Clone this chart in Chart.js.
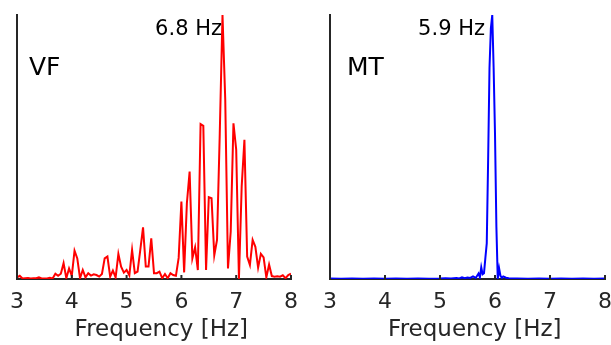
<!DOCTYPE html>
<html>
<head>
<meta charset="utf-8">
<script src="https://cdn.jsdelivr.net/npm/chart.js@4.4.1/dist/chart.umd.min.js"></script>
<style>
  html, body { margin: 0; padding: 0; background: #fff; overflow: hidden; width: 611px; height: 345px; }
  canvas { position: absolute; top: 0; }
  #vfChart { left: -2px; }
  #mtChart { left: 310px; }
</style>
</head>
<body>
<canvas id="vfChart" width="320" height="345"></canvas>
<canvas id="mtChart" width="330" height="345"></canvas>
<script>
// x axis ticks (Hz)
const tickValues = [3, 4, 5, 6, 7, 8];

// VF spectrum, 0.05 Hz grid from 3.00 to 8.00 (normalised power)
const vfFreq = [];
for (let i = 0; i <= 100; i++) vfFreq.push(+(3 + i * 0.05).toFixed(2));
const vfPower = [
  0.006, 0.012, 0.002, 0.003, 0.004, 0.002, 0.003, 0.003, 0.006, 0.002,
  0.002, 0.002, 0.005, 0.002, 0.020, 0.012, 0.020, 0.060, 0.003, 0.040,
  0.012, 0.107, 0.078, 0.003, 0.034, 0.006, 0.022, 0.013, 0.018, 0.015,
  0.009, 0.019, 0.078, 0.085, 0.009, 0.032, 0.006, 0.095, 0.047, 0.024,
  0.034, 0.014, 0.110, 0.022, 0.028, 0.110, 0.196, 0.047, 0.047, 0.154,
  0.022, 0.022, 0.028, 0.003, 0.019, 0.003, 0.022, 0.015, 0.012, 0.080,
  0.293, 0.025, 0.287, 0.407, 0.078, 0.120, 0.034, 0.587, 0.580, 0.034,
  0.310, 0.306, 0.090, 0.148, 0.550, 1.000, 0.680, 0.040, 0.180, 0.590,
  0.490, 0.000, 0.350, 0.527, 0.085, 0.053, 0.148, 0.122, 0.043, 0.095,
  0.082, 0.006, 0.055, 0.011, 0.009, 0.010, 0.009, 0.014, 0.003, 0.015,
  0.020
];

// MT spectrum (finer grid near the peak)
const mtFreq = [
  3.0, 3.2, 3.4, 3.6, 3.8, 4.0, 4.2, 4.4, 4.6, 4.8, 5.0, 5.1, 5.2, 5.3, 5.35,
  5.4, 5.45, 5.5, 5.55, 5.6, 5.65, 5.7, 5.725, 5.75, 5.775, 5.8, 5.825, 5.85,
  5.875, 5.9, 5.925, 5.95, 5.975, 6.0, 6.025, 6.05, 6.075, 6.1, 6.125, 6.15,
  6.2, 6.25, 6.3, 6.4, 6.6, 6.8, 7.0, 7.2, 7.4, 7.6, 7.8, 8.0
];
const mtPower = [
  0.002, 0.001, 0.002, 0.001, 0.002, 0.001, 0.002, 0.001, 0.002, 0.001, 0.002, 0.003, 0.002, 0.004, 0.002,
  0.006, 0.003, 0.006, 0.004, 0.010, 0.004, 0.021, 0.006, 0.044, 0.018, 0.022, 0.080, 0.135,
  0.450, 0.800, 0.950, 1.000, 0.800, 0.550, 0.200, 0.000, 0.040, 0.012, 0.004, 0.010,
  0.005, 0.003, 0.002, 0.002, 0.001, 0.002, 0.001, 0.002, 0.001, 0.002, 0.001, 0.002
];

const axisColor = '#262626';

// inward tick marks on the x axis + panel labels
const decorPlugin = {
  id: 'decor',
  afterDraw(chart, args, opts) {
    const ctx = chart.ctx;
    const xs = chart.scales.x;
    const area = chart.chartArea;
    ctx.save();
    ctx.strokeStyle = axisColor;
    ctx.lineWidth = 2;
    tickValues.forEach(v => {
      const px = xs.getPixelForValue(v);
      ctx.beginPath();
      ctx.moveTo(px, area.bottom);
      ctx.lineTo(px, area.bottom - 4);
      ctx.stroke();
    });
    ctx.fillStyle = '#000';
    ctx.textBaseline = 'middle';
    ctx.font = '25px "DejaVu Sans"';
    ctx.textAlign = 'left';
    ctx.fillText(opts.name, area.left + opts.nameDx, 68);
    ctx.font = '21px "DejaVu Sans"';
    ctx.textAlign = 'right';
    ctx.fillText(opts.peak, area.left + opts.peakDx, 30);
    ctx.restore();
  }
};

function makeChart(id, freq, power, color, name, nameDx, peak, peakDx, padLeft, padRight) {
  const ctx = document.getElementById(id).getContext('2d');
  return new Chart(ctx, {
    type: 'line',
    data: {
      datasets: [{
        data: freq.map((f, i) => ({ x: f, y: power[i] })),
        borderColor: color,
        borderWidth: 2,
        pointRadius: 0,
        tension: 0,
        fill: false
      }]
    },
    options: {
      responsive: false,
      animation: false,
      layout: { padding: { left: padLeft, top: 15, right: padRight, bottom: 0 } },
      plugins: {
        legend: { display: false },
        tooltip: { enabled: false },
        decor: { name: name, nameDx: nameDx, peak: peak, peakDx: peakDx }
      },
      scales: {
        x: {
          type: 'linear',
          min: 3,
          max: 8,
          afterBuildTicks: s => { s.ticks = tickValues.map(v => ({ value: v })); },
          grid: { display: false, drawTicks: false },
          border: { display: true, color: axisColor, width: 2 },
          ticks: {
            color: axisColor,
            font: { family: 'DejaVu Sans', size: 22, lineHeight: 1 },
            padding: 12,
            maxRotation: 0
          },
          title: {
            display: true,
            text: '  Frequency [Hz]',
            color: axisColor,
            font: { family: 'DejaVu Sans', size: 23, lineHeight: '11px' },
            padding: { top: 0, bottom: 9 }
          }
        },
        y: {
          min: 0,
          max: 1,
          grid: { display: false, drawTicks: false },
          border: { display: true, color: axisColor, width: 2 },
          ticks: { display: false }
        }
      }
    },
    plugins: [decorPlugin]
  });
}

makeChart('vfChart', vfFreq, vfPower, '#ff0000', 'VF', 12, '6.8 Hz', 205, 0, 27);
makeChart('mtChart', mtFreq, mtPower, '#0000ff', 'MT', 17, '5.9 Hz', 155, 20, 35);
</script>
</body>
</html>
